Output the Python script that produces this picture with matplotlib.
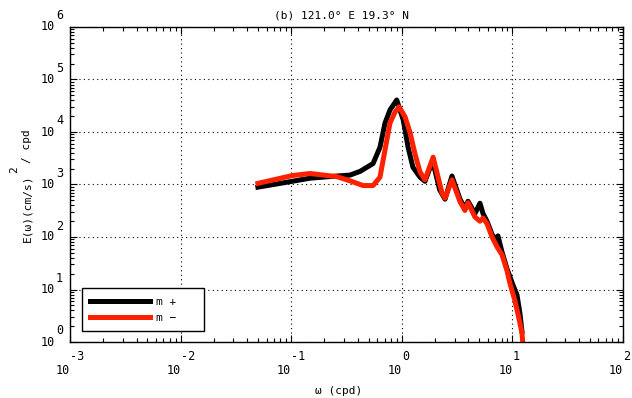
import matplotlib
matplotlib.use("Agg")
import matplotlib.pyplot as plt

plt.rcParams["font.family"] = ["DejaVu Sans Mono", "DejaVu Sans"]
plt.rcParams["font.size"] = 8

# frequency (cpd) and spectral energy
freq_plus = [0.050, 0.102, 0.148, 0.259, 0.340, 0.42, 0.55, 0.635, 0.705, 0.782,
             0.90, 1.03, 1.14, 1.26, 1.46, 1.62, 1.90, 2.2, 2.46, 2.84, 3.36,
             3.72, 3.97, 4.59, 5.09, 5.42, 5.89, 6.55, 7.0, 7.4, 8.05, 8.93,
             10.1, 11.0, 11.7, 12.2]
energy_plus = [890, 1150, 1320, 1450, 1510, 1780, 2510, 5130, 14800, 26300,
               40700, 17000, 5130, 2140, 1380, 1150, 2820, 790, 525, 1450, 525,
               355, 480, 280, 440, 280, 200, 112, 90, 105, 52, 25,
               12.3, 7.9, 3.5, 1.6]

freq_minus = [0.050, 0.102, 0.148, 0.259, 0.340, 0.446, 0.55, 0.635, 0.705,
              0.782, 0.869, 0.944, 1.07, 1.19, 1.31, 1.46, 1.62, 1.92, 2.31,
              2.46, 2.84, 3.36, 3.72, 3.97, 4.59, 5.09, 5.42, 5.89, 6.55, 7.26,
              8.05, 8.93, 9.51, 10.5, 11.2, 12.2, 12.5]
energy_minus = [1050, 1480, 1620, 1410, 1175, 955, 955, 1380, 4570,
                14800, 24000, 30200, 19500, 9550, 3980, 1740, 1230, 3310, 690,
                550, 1230, 470, 320, 450, 240, 200, 230, 180, 100, 65,
                46, 23, 13, 6.3, 3.5, 1.5, 0.8]

labels = ["m +", "m \u2212"]
colors = ["#000000", "#ff2000"]

x_exps = [-3, -2, -1, 0, 1, 2]
y_exps = [0, 1, 2, 3, 4, 5, 6]

fig = plt.figure(figsize=(6.32, 3.98), dpi=100)
ax = fig.add_axes([70 / 632, 56 / 398, 553 / 632, 315 / 398])

ax.plot(freq_plus, energy_plus, color=colors[0], lw=3.6, label=labels[0])
ax.plot(freq_minus, energy_minus, color=colors[1], lw=3.6, label=labels[1])

ax.set_xscale("log")
ax.set_yscale("log")
ax.set_xlim(10.0 ** x_exps[0], 10.0 ** x_exps[-1])
ax.set_ylim(10.0 ** y_exps[0], 10.0 ** y_exps[-1])
ax.set_xticks([10.0 ** e for e in x_exps])
ax.set_yticks([10.0 ** e for e in y_exps])

ax.grid(True, which="major", color="k", linestyle=(0, (1, 3)), lw=0.8)
ax.tick_params(which="both", direction="in", top=True, right=True,
               labelbottom=False, labelleft=False, width=0.8)
ax.tick_params(which="major", length=5)
ax.tick_params(which="minor", length=3)
for s in ax.spines.values():
    s.set_linewidth(1.0)

# MATLAB style tick labels: "10" with the exponent up and to the right
tfs = 8.5
for e in x_exps:
    ax.annotate("10", xy=(10.0 ** e, 0), xycoords=("data", "axes fraction"),
                xytext=(0, -28), textcoords="offset pixels", ha="right", va="center",
                fontsize=tfs)
    ax.annotate(str(e), xy=(10.0 ** e, 0), xycoords=("data", "axes fraction"),
                xytext=(0, -15), textcoords="offset pixels", ha="left", va="center",
                fontsize=tfs)
for e in y_exps:
    ax.annotate("10", xy=(0, 10.0 ** e), xycoords=("axes fraction", "data"),
                xytext=(-15, 0), textcoords="offset pixels", ha="right", va="center",
                fontsize=tfs)
    ax.annotate(str(e), xy=(0, 10.0 ** e), xycoords=("axes fraction", "data"),
                xytext=(-14, 11), textcoords="offset pixels", ha="left", va="center",
                fontsize=tfs)

fig.text(342 / 632, 1 - 15 / 398, "(b) 121.0\u00b0 E 19.3\u00b0 N", ha="center", va="center")
fig.text(339 / 632, 1 - 391 / 398, "\u03c9 (cpd)", ha="center", va="center")
fig.text(27 / 632, 1 - 242 / 398, "E(\u03c9)(cm/s)", rotation=90, ha="center", va="bottom")
fig.text(14 / 632, 1 - 170 / 398, "2", rotation=90, ha="center", va="center")
fig.text(27 / 632, 1 - 163 / 398, "/ cpd", rotation=90, ha="center", va="bottom")

leg = ax.legend(loc="lower left", bbox_to_anchor=(0.022, 0.035, 0.22, 0.14),
                mode="expand", borderaxespad=0, handlelength=5.4, handletextpad=0.5,
                labelspacing=0.55, borderpad=0.75, fancybox=False, framealpha=1)
leg.get_frame().set_edgecolor("k")
leg.get_frame().set_linewidth(1.0)

fig.savefig("out.png", dpi=100)
